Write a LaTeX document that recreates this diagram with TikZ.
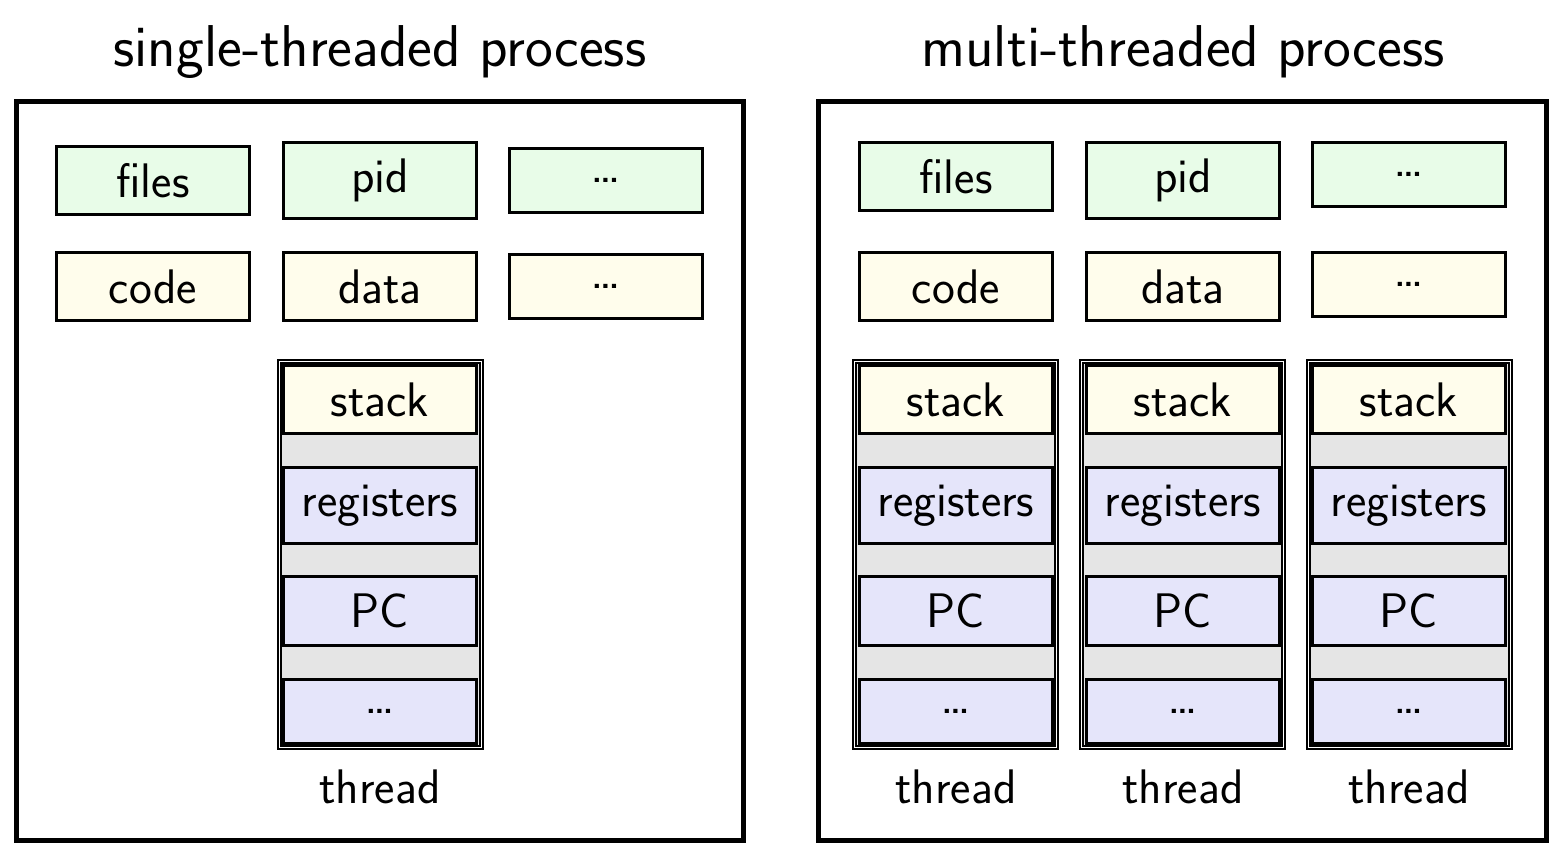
\documentclass[tikz,border=0pt]{standalone}
\usepackage{fontspec}
\setmainfont{Latin Modern Sans}
\newfontfamily\ttlfont{lmsans17-regular.otf}
\begin{document}
\begin{tikzpicture}[x=1pt,y=-1pt,
  box/.style={draw, line width=2.6pt, inner sep=0pt, minimum width=193.5pt, font=\fontsize{48.5}{58}\selectfont},
  gbox/.style={box, fill=greenfill},
  ybox/.style={box, fill=yellowfill},
  bbox/.style={box, fill=bluefill},
  thr/.style={draw, double, double distance=1pt, line width=2pt, fill=grayfill, inner sep=0pt, minimum width=202pt, minimum height=386pt},
  proc/.style={draw, line width=5pt, inner sep=0pt},
  ttl/.style={font=\ttlfont\fontsize{59}{70}\selectfont, anchor=base},
  lbl/.style={font=\fontsize{48.5}{58}\selectfont, anchor=base},
  dots/.style={font=\fontsize{52}{60}\selectfont}]
\definecolor{greenfill}{HTML}{E8FCE8}
\definecolor{yellowfill}{HTML}{FFFDEC}
\definecolor{bluefill}{HTML}{E5E5FA}
\definecolor{grayfill}{HTML}{E5E5E5}
\useasboundingbox (0,0) rectangle (1568,858);
% process frames
\node[proc, minimum width=727pt, minimum height=739pt] (pl) at (380,471) {};
\node[proc, minimum width=728pt, minimum height=739pt] (pr) at (1182.5,471) {};
\node[ttl] (tl) at (380,67) {single-threaded process};
\node[ttl] (tr) at (1183,67) {multi-threaded process};
% left shared
\node[gbox, minimum height=68.5pt] (lf) at (153,180.5) {files};
\node[gbox, minimum height=76.5pt] (lp) at (380,180.5) {pid};
\node[gbox, dots, minimum height=64.5pt] (le1) at (606,180.5) {…};
\node[ybox, minimum height=68.5pt] (lc) at (153,286.5) {code};
\node[ybox, minimum height=68.5pt] (ld) at (380,286.5) {data};
\node[ybox, dots, minimum height=64.5pt] (le2) at (606,286.5) {…};
% left thread
\node[thr] (lt) at (380,554.5) {};
\node[ybox, minimum height=68.5pt] (ls) at (380,399.5) {stack};
\node[bbox, minimum height=76.5pt] (lr) at (380,505.5) {registers};
\node[bbox, minimum height=69.5pt] (lpc) at (380,611) {PC};
\node[bbox, dots, minimum height=64.5pt] (lx) at (380,711.5) {…};
\node[lbl] (ltl) at (380,803) {thread};
% right shared
\node[gbox, minimum height=68.5pt] (rf) at (956,176.5) {files};
\node[gbox, minimum height=76.5pt] (rp) at (1183,180.5) {pid};
\node[gbox, dots, minimum height=64.5pt] (re1) at (1409,174.5) {…};
\node[ybox, minimum height=68.5pt] (rc) at (956,286.5) {code};
\node[ybox, minimum height=68.5pt] (rd) at (1183,286.5) {data};
\node[ybox, dots, minimum height=64.5pt] (re2) at (1409,284.5) {…};
% right threads
\foreach \cx/\tx/\n in {956/955.5/a, 1183/1182.5/b, 1409/1409.5/c}{
  \node[thr] (t\n) at (\tx,554.5) {};
  \node[ybox, minimum height=68.5pt] (s\n) at (\cx,399.5) {stack};
  \node[bbox, minimum height=76.5pt] (r\n) at (\cx,505.5) {registers};
  \node[bbox, minimum height=69.5pt] (pc\n) at (\cx,611) {PC};
  \node[bbox, dots, minimum height=64.5pt] (x\n) at (\cx,711.5) {…};
  \node[lbl] (l\n) at (\cx,803) {thread};
}
\end{tikzpicture}
\end{document}
